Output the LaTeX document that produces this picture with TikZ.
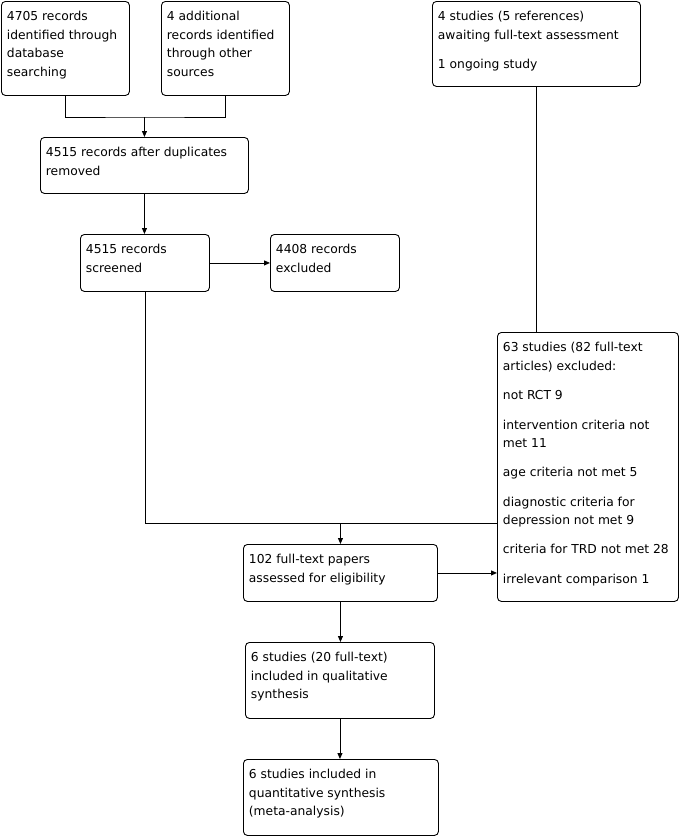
\documentclass[tikz,border=0pt]{standalone}
\usepackage{fontspec}
\setmainfont{DejaVu Sans}
\usepackage{tikz}
\usetikzlibrary{arrows.meta}

% box text: total width, total height, text
\newcommand{\boxtext}[3]{\parbox[c][#2pt][t]{\dimexpr#1pt-11pt\relax}{%
  \raggedright\setlength{\parskip}{10.8pt}\rule{0pt}{19.5pt}#3}}

\begin{document}
\begin{tikzpicture}[x=1pt, y=-1pt,
    box/.style={draw, line width=0.9pt, rounded corners=4pt, anchor=north west,
                inner xsep=5.5pt, inner ysep=0pt,
                font=\fontsize{12.3}{18.5}\selectfont},
    link/.style={line width=0.9pt},
    arrow/.style={link, -{Triangle[length=6pt,width=5pt]}}
  ]
  \useasboundingbox (0,0) rectangle (680,836);
  % Identification
  \node[box] (rec) at (1,1) {\boxtext{128}{94}{4705 records\\identified through\\database\\searching}};
  \node[box] (other) at (161,1) {\boxtext{128}{94}{4 additional\\records identified\\through other\\sources}};
  \node[box] (await) at (432,1) {\boxtext{208}{85}{4 studies (5 references)\\awaiting full-text assessment\par
                                  1 ongoing study}};
  % Screening
  \node[box] (dup) at (40,137) {\boxtext{208}{56}{4515 records after duplicates\\removed}};
  \node[box] (screen) at (80,234) {\boxtext{129}{57}{4515 records\\screened}};
  \node[box] (excl) at (270,234) {\boxtext{129}{57}{4408 records\\excluded}};
  % Eligibility
  \node[box] (ftex) at (497,332) {\boxtext{181}{269}{63 studies (82 full-text\\articles) excluded:\par
                                   not RCT 9\par
                                   intervention criteria not\\met 11\par
                                   age criteria not met 5\par
                                   diagnostic criteria for\\depression not met 9\par
                                   criteria for TRD not met 28\par
                                   irrelevant comparison 1}};
  \node[box] (full) at (243,544) {\boxtext{194}{57}{102 full-text papers\\assessed for eligibility}};
  % Included
  \node[box] (qual) at (245,642) {\boxtext{189}{76}{6 studies (20 full-text)\\included in qualitative\\synthesis}};
  \node[box] (quant) at (243,759) {\boxtext{195}{76}{6 studies included in\\quantitative synthesis\\(meta-analysis)}};

  % Connectors
  \coordinate (m1) at (dup.north |- 0,117);
  \draw[link] (rec.south) |- (m1) -| (other.south);
  \draw[arrow] (m1) -- (dup.north);
  \draw[arrow] (dup.south) -- (dup.south |- screen.north);
  \draw[arrow] (screen) -- (excl);
  \coordinate (m2) at (screen.south |- 0,523);
  \draw[link] (screen.south) -- (m2) -- (m2 -| ftex.west);
  \draw[arrow] (full.north |- m2) -- (full.north);
  \draw[link] (await.south) -- (await.south |- ftex.north);
  \draw[arrow] (full.east) -- (full.east -| ftex.west);
  \draw[arrow] (full.south) -- (full.south |- qual.north);
  \draw[arrow] (qual.south) -- (qual.south |- quant.north);
\end{tikzpicture}
\end{document}
